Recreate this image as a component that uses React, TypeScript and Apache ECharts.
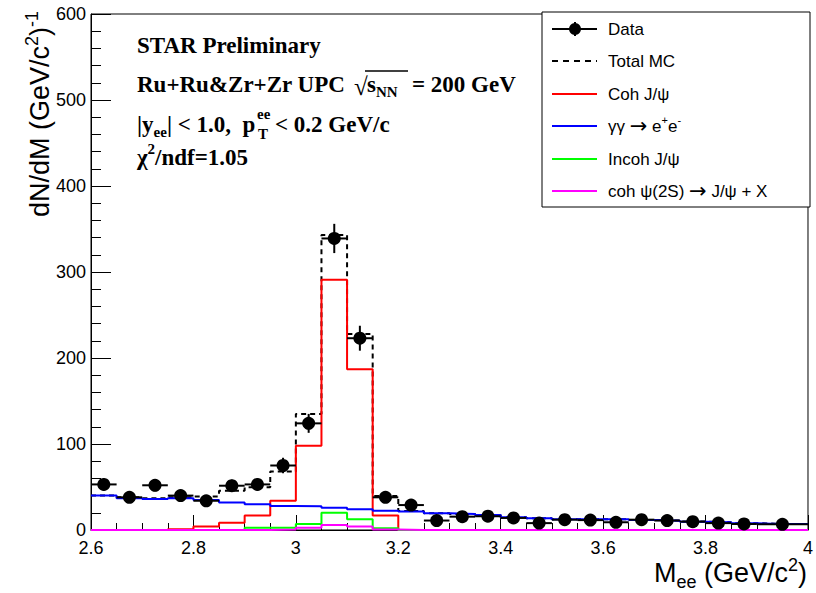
import React, { useEffect, useRef } from "react";
import * as echarts from "echarts";

// MC histogram bin edges (GeV/c^2)
const mcEdges = [2.6, 2.65, 2.7, 2.75, 2.8, 2.85, 2.9, 2.95, 3.0, 3.05, 3.1, 3.15, 3.2, 3.25, 3.3, 3.35, 3.4, 3.45, 3.5, 3.55, 3.6, 3.65, 3.7, 3.75, 3.8, 3.85, 3.9, 3.95, 4.0];
const totalMC = [40, 38, 37, 38, 39, 45.7, 49.6, 68, 135, 343, 228, 39.5, 22, 19.6, 18.7, 17.5, 14.8, 13.7, 12.5, 12.6, 12.6, 11.7, 10.9, 9.8, 9.1, 7.9, 7.1, 7.1];
const cohJpsi = [0, 0, 0, 1, 4, 8.5, 17, 34, 98, 291, 187, 17, 0, 0, 0, 0, 0, 0, 0, 0, 0, 0, 0, 0, 0, 0, 0, 0];
const gammaGamma = [40, 37, 36, 37, 35, 32, 30, 28, 27.5, 26, 24, 22.4, 21.5, 19.4, 18.6, 17.4, 14.7, 13.6, 12.4, 12.5, 12.5, 11.6, 10.8, 9.7, 9, 7.8, 7, 7];
const incohJpsi = [0, 0, 0, 0, 0, 0, 2.5, 2.7, 7, 20, 12.4, 2, 0, 0, 0, 0, 0, 0, 0, 0, 0, 0, 0, 0, 0, 0, 0, 0];
const cohPsi2S = [0, 0, 0, 0, 0, 0, 0, 0.5, 2.7, 5.8, 4.2, 0.5, 0, 0, 0, 0, 0, 0, 0, 0, 0, 0, 0, 0, 0, 0, 0, 0];

// Data bins
const dataEdges = [2.6, 2.65, 2.7, 2.75, 2.8, 2.85, 2.9, 2.95, 3.0, 3.05, 3.1, 3.15, 3.2, 3.25, 3.3, 3.35, 3.4, 3.45, 3.5, 3.55, 3.6, 3.65, 3.7, 3.75, 3.8, 3.85, 3.9, 4.0];
const dataY = [53, 38, 52, 40, 34, 51.5, 53, 75, 124, 339, 223, 38, 29, 11, 15.5, 16, 14, 8, 12, 11.5, 9, 12, 11, 9.7, 8, 7, 6.6];
const dataErr = [7, 6, 7, 6, 6, 7, 7, 9, 11, 17, 14.5, 6, 5.5, 3.5, 4, 4, 4, 3, 3.5, 3.4, 3, 3.5, 3.3, 3.1, 2.8, 2.6, 2.6];

const xTickValues = [2.6, 2.8, 3.0, 3.2, 3.4, 3.6, 3.8, 4.0];
const yTickValues = [0, 100, 200, 300, 400, 500, 600];

const SANS = "'Liberation Sans', Arial, sans-serif";
const SERIF = "'Liberation Serif', 'Times New Roman', serif";

function stepData(vals: number[]) {
  const d: number[][] = vals.map((v, i) => [mcEdges[i], v]);
  d.push([mcEdges[mcEdges.length - 1], vals[vals.length - 1]]);
  return d;
}

function histSeries(name: string, vals: number[], color: string, z: number, dashed = false) {
  return {
    name,
    type: "line",
    step: "end",
    data: stepData(vals),
    showSymbol: false,
    symbol: "none",
    clip: false,
    z,
    lineStyle: { color, width: 2, type: dashed ? [5, 4] : "solid" },
    itemStyle: { color },
  };
}

export default function App() {
  const ref = useRef<HTMLDivElement>(null);
  useEffect(() => {
    if (!ref.current) return;
    const chart = echarts.init(ref.current, undefined, { renderer: "svg" });

    const dataRows = dataY.map((y, i) => {
      const lo = dataEdges[i];
      const hi = dataEdges[i + 1];
      return [(lo + hi) / 2, y, lo, hi, dataErr[i]];
    });

    const serifBold = { fontFamily: SERIF, fontWeight: "bold" as const, color: "#000" };
    const mainRich = {
      m: { ...serifBold, fontSize: 23, lineHeight: 31 },
      sb: { ...serifBold, fontSize: 15, lineHeight: 15, verticalAlign: "bottom" },
      sp: { ...serifBold, fontSize: 15, lineHeight: 15, verticalAlign: "top" },
    };
    const legRich = {
      m: { fontFamily: SANS, fontSize: 17, lineHeight: 24, color: "#000" },
      ar: { fontFamily: "'DejaVu Sans', sans-serif", fontSize: 21, lineHeight: 24, color: "#000" },
      sp: { fontFamily: SANS, fontSize: 11, lineHeight: 11, verticalAlign: "top", color: "#000" },
    };
    const axRich = {
      m: { fontFamily: SANS, fontSize: 27, lineHeight: 35, color: "#000" },
      sp: { fontFamily: SANS, fontSize: 18, lineHeight: 18, verticalAlign: "top", color: "#000" },
      sb: { fontFamily: SANS, fontSize: 18, lineHeight: 18, verticalAlign: "bottom", color: "#000" },
    };

    const legendRows = [29, 61, 94, 126, 159, 191];
    const lx1 = 552, lx2 = 597, ltx = 608;

    const option: any = {
      animation: false,
      backgroundColor: "#fff",
      grid: { left: 91, right: 5, top: 14, bottom: 63, show: true, borderColor: "#000", borderWidth: 1, backgroundColor: "transparent" },
      xAxis: {
        type: "value",
        min: 2.6,
        max: 4.0,
        interval: 0.2,
        axisLine: { show: true, onZero: false, lineStyle: { color: "#000", width: 1 } },
        axisTick: { show: true, inside: true, length: 15, lineStyle: { color: "#000", width: 1 } },
        minorTick: { show: true, splitNumber: 4, length: 7, lineStyle: { color: "#000", width: 1 } },
        splitLine: { show: false },
        axisLabel: {
          show: true,
          fontFamily: SANS,
          fontSize: 18,
          color: "#000",
          margin: 9,
          showMinLabel: true,
          showMaxLabel: true,
          formatter: (v: number) => {
            const hit = xTickValues.find((t) => Math.abs(t - v) < 1e-6);
            return hit === undefined ? "" : String(Math.round(hit * 10) / 10);
          },
        },
      },
      yAxis: {
        type: "value",
        min: 0,
        max: 600,
        interval: 100,
        axisLine: { show: true, lineStyle: { color: "#000", width: 1 } },
        axisTick: { show: true, inside: true, length: 20, lineStyle: { color: "#000", width: 1 } },
        minorTick: { show: true, splitNumber: 5, length: 10, lineStyle: { color: "#000", width: 1 } },
        splitLine: { show: false },
        axisLabel: {
          fontFamily: SANS,
          fontSize: 18,
          color: "#000",
          margin: 5,
          formatter: (v: number) => (yTickValues.includes(v) ? String(v) : ""),
        },
      },
      series: [
        histSeries("Total MC", totalMC, "#000000", 2, true),
        histSeries("Coh J/ψ", cohJpsi, "#ff0000", 3),
        histSeries("γγ → e+e-", gammaGamma, "#0000ff", 4),
        histSeries("Incoh J/ψ", incohJpsi, "#00ff00", 5),
        histSeries("coh ψ(2S) → J/ψ + X", cohPsi2S, "#ff00ff", 6),
        {
          name: "Data errors",
          type: "custom",
          z: 8,
          data: dataRows,
          encode: { x: 0, y: 1 },
          renderItem: (_p: any, api: any) => {
            const xc = api.value(0), y = api.value(1), xl = api.value(2), xh = api.value(3), e = api.value(4);
            const pL = api.coord([xl, y]);
            const pR = api.coord([xh, y]);
            const pB = api.coord([xc, y - e]);
            const pT = api.coord([xc, y + e]);
            return {
              type: "group",
              children: [
                { type: "line", shape: { x1: pL[0], y1: pL[1], x2: pR[0], y2: pR[1] }, style: { stroke: "#000", lineWidth: 2 } },
                { type: "line", shape: { x1: pB[0], y1: pB[1], x2: pT[0], y2: pT[1] }, style: { stroke: "#000", lineWidth: 2 } },
              ],
            };
          },
        },
        {
          name: "Data",
          type: "scatter",
          z: 9,
          symbol: "circle",
          symbolSize: 13,
          itemStyle: { color: "#000", opacity: 1 },
          data: dataRows.map((r) => [r[0], r[1]]),
        },
      ],
      graphic: [
        // Y axis title
        {
          type: "text",
          x: 40,
          y: 11,
          rotation: Math.PI / 2,
          z: 100,
          style: {
            text: "{m|dN/dM (GeV/c}{sp|2}{m|)}{sp|-1}",
            align: "right",
            verticalAlign: "middle",
            rich: axRich,
          },
        },
        // X axis title
        {
          type: "text",
          x: 807,
          y: 573,
          z: 100,
          style: {
            text: "{m|M}{sb|ee}{m| (GeV/c}{sp|2}{m|)}",
            align: "right",
            verticalAlign: "middle",
            rich: axRich,
          },
        },
        // Text block
        { type: "text", x: 137, y: 45, z: 100, style: { text: "{m|STAR Preliminary}", verticalAlign: "middle", rich: mainRich } },
        { type: "text", x: 137, y: 84, z: 100, style: { text: "{m|Ru+Ru&Zr+Zr UPC}", verticalAlign: "middle", rich: mainRich } },
        { type: "text", x: 354, y: 86, z: 100, style: { text: "√", fontFamily: SERIF, fontSize: 25, fontWeight: "normal", fill: "#000", verticalAlign: "middle" } },
        { type: "line", z: 100, shape: { x1: 365, y1: 71, x2: 408, y2: 71 }, style: { stroke: "#000", lineWidth: 1.5 } },
        { type: "text", x: 367, y: 84, z: 100, style: { text: "{m|s}{sb|NN}", verticalAlign: "middle", rich: mainRich } },
        { type: "text", x: 412, y: 84, z: 100, style: { text: "{m|= 200 GeV}", verticalAlign: "middle", rich: mainRich } },
        { type: "text", x: 137, y: 124, z: 100, style: { text: "{m||y}{sb|ee}{m|| < 1.0,  p}", verticalAlign: "middle", rich: mainRich } },
        { type: "text", x: 257, y: 114, z: 100, style: { text: "ee", fontFamily: SERIF, fontWeight: "bold", fontSize: 15, fill: "#000", verticalAlign: "middle" } },
        { type: "text", x: 258, y: 134, z: 100, style: { text: "T", fontFamily: SERIF, fontWeight: "bold", fontSize: 15, fill: "#000", verticalAlign: "middle" } },
        { type: "text", x: 275, y: 124, z: 100, style: { text: "{m|< 0.2 GeV/c}", verticalAlign: "middle", rich: mainRich } },
        { type: "text", x: 137, y: 157, z: 100, style: { text: "{m|χ}{sp|2}{m|/ndf=1.05}", verticalAlign: "middle", rich: mainRich } },
        // Legend box
        { type: "rect", z: 100, shape: { x: 542, y: 12, width: 268, height: 195 }, style: { fill: "#fff", stroke: "#000", lineWidth: 1 } },
        // Data entry
        { type: "line", z: 101, shape: { x1: lx1, y1: legendRows[0], x2: lx2, y2: legendRows[0] }, style: { stroke: "#000", lineWidth: 2 } },
        { type: "line", z: 101, shape: { x1: 575, y1: legendRows[0] - 7, x2: 575, y2: legendRows[0] + 7 }, style: { stroke: "#000", lineWidth: 2 } },
        { type: "circle", z: 102, shape: { cx: 575, cy: legendRows[0], r: 6 }, style: { fill: "#000" } },
        { type: "line", z: 101, shape: { x1: lx1, y1: legendRows[1], x2: lx2, y2: legendRows[1] }, style: { stroke: "#000", lineWidth: 2, lineDash: [6, 5] } },
        { type: "line", z: 101, shape: { x1: lx1, y1: legendRows[2], x2: lx2, y2: legendRows[2] }, style: { stroke: "#ff0000", lineWidth: 2 } },
        { type: "line", z: 101, shape: { x1: lx1, y1: legendRows[3], x2: lx2, y2: legendRows[3] }, style: { stroke: "#0000ff", lineWidth: 2 } },
        { type: "line", z: 101, shape: { x1: lx1, y1: legendRows[4], x2: lx2, y2: legendRows[4] }, style: { stroke: "#00ff00", lineWidth: 2 } },
        { type: "line", z: 101, shape: { x1: lx1, y1: legendRows[5], x2: lx2, y2: legendRows[5] }, style: { stroke: "#ff00ff", lineWidth: 2 } },
        { type: "text", x: ltx, y: legendRows[0], z: 101, style: { text: "{m|Data}", verticalAlign: "middle", rich: legRich } },
        { type: "text", x: ltx, y: legendRows[1], z: 101, style: { text: "{m|Total MC}", verticalAlign: "middle", rich: legRich } },
        { type: "text", x: ltx, y: legendRows[2], z: 101, style: { text: "{m|Coh J/ψ}", verticalAlign: "middle", rich: legRich } },
        { type: "text", x: ltx, y: legendRows[3], z: 101, style: { text: "{m|γγ }{ar|→}{m| e}{sp|+}{m|e}{sp|-}", verticalAlign: "middle", rich: legRich } },
        { type: "text", x: ltx, y: legendRows[4], z: 101, style: { text: "{m|Incoh J/ψ}", verticalAlign: "middle", rich: legRich } },
        { type: "text", x: ltx, y: legendRows[5], z: 101, style: { text: "{m|coh ψ(2S) }{ar|→}{m| J/ψ + X}", verticalAlign: "middle", rich: legRich } },
      ],
    };
    chart.setOption(option);
    return () => chart.dispose();
  }, []);
  return <div ref={ref} style={{ position: "absolute", left: 0, top: 0, width: 816, height: 593 }} />;
}
